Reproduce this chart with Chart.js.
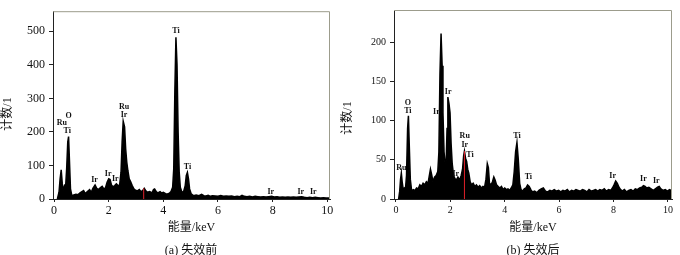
<!DOCTYPE html>
<html>
<head>
<meta charset="utf-8">
<script src="https://cdn.jsdelivr.net/npm/chart.js@4"></script>
<style>
  body { margin: 0; background: #fff; }
  #wrap { position: relative; width: 680px; height: 255px; }
  canvas { position: absolute; top: 0; }
  .cap { position: absolute; top: 240px; width: 120px; margin-left: -60px; text-align: center;
         font: 12px "Liberation Serif", "Noto Sans CJK SC", serif; color: #111; }
</style>
</head>
<body>
<div id="wrap">
  <canvas id="chartA" width="340" height="255" style="left:0"></canvas>
  <canvas id="chartB" width="340" height="255" style="left:340px"></canvas>
  <div class="cap" style="left:191px">(a) 失效前</div>
  <div class="cap" style="left:533px">(b) 失效后</div>
</div>
<script>
// ejes comunes
const xTicks = [0, 2, 4, 6, 8, 10];
const yTicksA = [0, 100, 200, 300, 400, 500];
const yTicksB = [0, 50, 100, 150, 200];
const xTitle = '能量/keV';
const yTitle = '计数/1';

// espectro (a) antes del fallo
const energyA = [
  0.12, 0.18, 0.22, 0.26, 0.30, 0.33, 0.38, 0.42, 0.46, 0.50,
  0.53, 0.56, 0.60, 0.65, 0.72, 0.80, 0.88, 0.95, 1.02, 1.08,
  1.14, 1.22, 1.30, 1.36, 1.42, 1.50, 1.56, 1.62, 1.70, 1.76,
  1.82, 1.88, 1.94, 2.00, 2.05, 2.10, 2.16, 2.22, 2.28, 2.34,
  2.40, 2.45, 2.49, 2.53, 2.58, 2.62, 2.66, 2.70, 2.75, 2.80,
  2.86, 2.92, 2.98, 3.05, 3.12, 3.18, 3.24, 3.30, 3.36, 3.42,
  3.50, 3.58, 3.64, 3.68, 3.74, 3.80, 3.88, 3.94, 4.00, 4.08,
  4.15, 4.22, 4.28, 4.34, 4.38, 4.42, 4.46, 4.50, 4.54, 4.58,
  4.62, 4.68, 4.74, 4.80, 4.84, 4.88, 4.92, 4.96, 5.02, 5.10,
  5.20, 5.30, 5.40, 5.48, 5.56, 5.64, 5.72, 5.80, 5.90, 6.00,
  6.10, 6.20, 6.30, 6.40, 6.50, 6.60, 6.70, 6.80, 6.88, 6.96,
  7.06, 7.16, 7.26, 7.36, 7.46, 7.56, 7.66, 7.76, 7.86, 7.96,
  8.06, 8.16, 8.26, 8.36, 8.46, 8.56, 8.66, 8.76, 8.86, 8.96,
  9.06, 9.16, 9.26, 9.36, 9.46, 9.56, 9.66, 9.76, 9.86, 9.96,
  10.05, 10.1
];
const countsA = [
  0, 20, 60, 87, 45, 25, 40, 35, 90, 170,
  186, 120, 30, 10, 12, 14, 13, 18, 22, 25,
  16, 22, 28, 20, 32, 42, 32, 28, 34, 38,
  30, 33, 50, 60, 58, 42, 36, 40, 45, 40,
  42, 80, 170, 232, 215, 150, 110, 85, 60, 52,
  40, 30, 26, 24, 28, 22, 25, 32, 24, 20,
  22, 18, 28, 30, 22, 18, 22, 18, 20, 16,
  15, 17, 22, 35, 90, 320, 482, 400, 200, 80,
  35, 20, 22, 40, 70, 79, 60, 30, 15, 10,
  12, 10, 14, 10, 9, 11, 8, 10, 9, 8,
  10, 8, 9, 8, 9, 7, 8, 7, 11, 8,
  7, 8, 6, 8, 7, 6, 7, 6, 7, 8,
  6, 7, 5, 6, 5, 6, 5, 6, 5, 6,
  7, 5, 4, 5, 4, 5, 4, 3, 4, 3,
  3, 2
];

// espectro (b) despues del fallo
const energyB = [
  0.10, 0.14, 0.17, 0.20, 0.23, 0.27, 0.31, 0.35, 0.39, 0.43,
  0.46, 0.49, 0.53, 0.58, 0.64, 0.70, 0.76, 0.82, 0.88, 0.94,
  1.00, 1.06, 1.12, 1.18, 1.22, 1.27, 1.32, 1.36, 1.42, 1.48,
  1.54, 1.58, 1.62, 1.66, 1.70, 1.73, 1.77, 1.81, 1.85, 1.88,
  1.91, 1.95, 1.99, 2.03, 2.07, 2.12, 2.17, 2.22, 2.28, 2.34,
  2.40, 2.45, 2.49, 2.52, 2.56, 2.60, 2.64, 2.68, 2.73, 2.78,
  2.84, 2.90, 2.96, 3.02, 3.08, 3.14, 3.20, 3.26, 3.31, 3.36,
  3.40, 3.44, 3.50, 3.55, 3.60, 3.65, 3.70, 3.76, 3.82, 3.88,
  3.94, 4.00, 4.06, 4.12, 4.18, 4.24, 4.30, 4.35, 4.40, 4.45,
  4.50, 4.55, 4.60, 4.66, 4.72, 4.78, 4.84, 4.90, 4.96, 5.02,
  5.10, 5.18, 5.26, 5.34, 5.42, 5.50, 5.58, 5.66, 5.74, 5.82,
  5.90, 5.98, 6.06, 6.14, 6.22, 6.30, 6.38, 6.46, 6.54, 6.62,
  6.70, 6.78, 6.86, 6.94, 7.02, 7.10, 7.18, 7.26, 7.34, 7.42,
  7.50, 7.58, 7.66, 7.74, 7.82, 7.90, 7.96, 8.02, 8.08, 8.14,
  8.20, 8.26, 8.32, 8.40, 8.48, 8.56, 8.64, 8.72, 8.80, 8.88,
  8.96, 9.04, 9.10, 9.16, 9.22, 9.30, 9.38, 9.46, 9.54, 9.62,
  9.68, 9.74, 9.82, 9.90, 9.98, 10.06, 10.12
];
const countsB = [
  0, 10, 25, 33, 22, 12, 14, 12, 30, 90,
  106, 70, 25, 10, 12, 11, 14, 13, 18, 16,
  20, 18, 22, 20, 28, 38, 30, 22, 28, 30,
  35, 60, 160, 211, 170, 110, 60, 45, 50, 90,
  130, 122, 110, 70, 45, 30, 26, 24, 28, 24,
  30, 38, 55, 61, 52, 48, 38, 33, 22, 18,
  20, 16, 18, 15, 17, 14, 16, 15, 25, 45,
  40, 20, 18, 22, 28, 24, 18, 16, 14, 16,
  12, 14, 12, 13, 11, 14, 18, 35, 60, 72,
  50, 20, 12, 10, 13, 14, 18, 16, 12, 9,
  10, 8, 11, 13, 14, 10, 9, 11, 10, 12,
  10, 11, 9, 11, 10, 12, 9, 11, 10, 12,
  11, 10, 12, 11, 9, 12, 10, 11, 12, 10,
  12, 11, 13, 10, 12, 11, 14, 18, 23, 20,
  15, 12, 10, 12, 9, 11, 12, 10, 13, 12,
  14, 15, 17, 16, 14, 15, 13, 11, 13, 15,
  16, 13, 11, 12, 10, 12, 11
];

// marcas rojas
const markEnergyA = [3.28, 3.28];
const markCountsA = [0, 32];
const markEnergyB = [2.52, 2.52];
const markCountsB = [0, 61];

// etiquetas de elementos
const peakTextA = ['Ru', 'O', 'Ti', 'Ir', 'Ir', 'Ir', 'Ru', 'Ir', 'Ti', 'Ti', 'Ir', 'Ir', 'Ir'];
const peakEnergyA = [0.28, 0.53, 0.48, 1.48, 1.98, 2.24, 2.56, 2.56, 4.46, 4.88, 7.93, 9.03, 9.49];
const peakCountsA = [226, 249, 202, 57, 76, 59, 274, 250, 500, 96, 22, 22, 22];

const peakTextB = ['Ru', 'O', 'Ti', 'Ir', 'Ir', 'Ru', 'Ir', 'Ti', 'Ir', 'Ti', 'Ti', 'Ir', 'Ir', 'Ir'];
const peakEnergyB = [0.2, 0.44, 0.44, 1.49, 1.92, 2.53, 2.53, 2.72, 2.2, 4.45, 4.87, 7.97, 9.1, 9.57];
const peakCountsB = [39, 123, 112, 111, 136, 80, 69, 56, 32, 80, 28, 30, 25, 23];

const toPoints = (xs, ys) => xs.map((x, i) => ({ x: x, y: ys[i] }));
const serif = '"Liberation Serif", "Noto Sans CJK SC", serif';

// marco, titulo vertical y etiquetas de picos
const decorPlugin = {
  id: 'decor',
  afterDraw(chart, args, opts) {
    const { ctx, chartArea: a, scales } = chart;
    ctx.save();
    ctx.strokeStyle = '#9c9c8c';
    ctx.lineWidth = 1;
    ctx.beginPath();
    ctx.moveTo(a.left, a.top + 0.5);
    ctx.lineTo(a.right - 0.5, a.top + 0.5);
    ctx.lineTo(a.right - 0.5, a.bottom);
    ctx.stroke();

    ctx.fillStyle = '#111';
    ctx.font = 'bold 8px ' + serif;
    ctx.textAlign = 'center';
    ctx.textBaseline = 'middle';
    opts.text.forEach((t, i) => {
      ctx.fillText(t, scales.x.getPixelForValue(opts.energy[i]), scales.y.getPixelForValue(opts.counts[i]));
    });

    ctx.font = '12px ' + serif;
    ctx.translate(8, opts.titleY);
    ctx.rotate(-Math.PI / 2);
    ctx.fillText(yTitle, 0, 0);
    ctx.restore();
  }
};

function makeChart(id, energy, counts, markE, markC, yTicks, yMax, xMin, xMax, axisW, padRight, tickSize, labels, titleY) {
  return new Chart(document.getElementById(id), {
    type: 'line',
    data: {
      datasets: [
        {
          data: toPoints(markE, markC),
          borderColor: '#e0202a',
          borderWidth: 1,
          pointRadius: 0,
          fill: false
        },
        {
          data: toPoints(energy, counts),
          borderColor: '#000',
          backgroundColor: '#000',
          borderWidth: 1.5,
          pointRadius: 0,
          tension: 0,
          fill: 'origin'
        }
      ]
    },
    options: {
      responsive: false,
      animation: false,
      layout: { padding: { top: 5, right: padRight, bottom: 20, left: 0 } },
      plugins: {
        legend: { display: false },
        tooltip: { enabled: false },
        decor: { text: labels[0], energy: labels[1], counts: labels[2], titleY: titleY }
      },
      scales: {
        x: {
          type: 'linear',
          min: xMin,
          max: xMax,
          afterBuildTicks: s => { s.ticks = xTicks.map(v => ({ value: v })); },
          afterFit: s => { s.height = 36; },
          grid: { drawOnChartArea: false, tickLength: 3, color: '#222' },
          border: { color: '#222' },
          ticks: { padding: 2, color: '#111', font: { family: serif, size: tickSize } },
          title: { display: true, text: xTitle, color: '#111', padding: 0, font: { family: serif, size: 12 } }
        },
        y: {
          min: 0,
          max: yMax,
          afterBuildTicks: s => { s.ticks = yTicks.map(v => ({ value: v })); },
          afterFit: s => { s.width = axisW; },
          grid: { drawOnChartArea: false, tickLength: 4, color: '#222' },
          border: { color: '#222' },
          ticks: { padding: 4, color: '#111', font: { family: serif, size: tickSize } }
        }
      }
    },
    plugins: [decorPlugin]
  });
}

makeChart('chartA', energyA, countsA, markEnergyA, markCountsA, yTicksA, 560, -0.04, 10.1, 53, 10, 12,
  [peakTextA, peakEnergyA, peakCountsA], 114);
makeChart('chartB', energyB, countsB, markEnergyB, markCountsB, yTicksB, 241, -0.07, 10.15, 54, 8, 10,
  [peakTextB, peakEnergyB, peakCountsB], 118);
</script>
</body>
</html>
